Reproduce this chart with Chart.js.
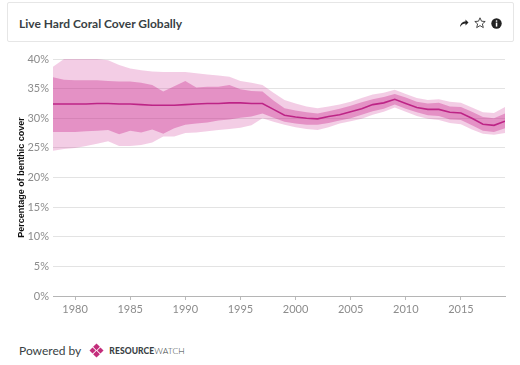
<!DOCTYPE html>
<html lang="en">
<head>
    <meta charset="UTF-8">
    <title>Live Hard Coral Cover Globally</title>
    <script src="https://cdn.jsdelivr.net/npm/chart.js"></script>
    <style>
        body {
            margin: 0;
            width: 520px;
            height: 365px;
            background: #fff;
            font-family: 'Lato', sans-serif;
            position: relative;
            overflow: hidden;
        }
        .header {
            position: absolute;
            left: 7px;
            top: 2px;
            width: 507px;
            height: 40px;
            border: 1px solid #e6e6e6;
            border-radius: 2px;
            box-sizing: border-box;
        }
        .header h1 {
            position: absolute;
            left: 11px;
            top: 13px;
            margin: 0;
            font-size: 12px;
            font-weight: 700;
            color: #393f44;
        }
        .icons {
            position: absolute;
            right: 11px;
            top: 14px;
            display: flex;
            gap: 5px;
            align-items: center;
        }
        .chart-box {
            position: absolute;
            left: 0;
            top: 45px;
            width: 515px;
            height: 285px;
        }
        .footer {
            position: absolute;
            left: 19px;
            top: 343px;
            display: flex;
            align-items: center;
            color: #393f44;
            font-size: 12px;
        }
        .footer .brand {
            font-size: 8.5px;
            letter-spacing: 0.1px;
            margin-left: 5px;
        }
        .footer .brand b { font-weight: 900; }
        .footer .brand span { font-weight: 300; }
    </style>
</head>
<body>
    <div class="header">
        <h1>Live Hard Coral Cover Globally</h1>
        <div class="icons">
            <!-- share -->
            <svg width="10" height="10" viewBox="0 0 10 10"><path d="M1 9 C1.5 5 4 3.5 6.5 3.5 L6.5 1.5 L9.5 4.5 L6.5 7.5 L6.5 5.5 C4.5 5.5 2.5 6.5 1 9 Z" fill="#222"/></svg>
            <!-- star -->
            <svg width="12" height="12" viewBox="0 0 12 12"><path d="M6 0.8 L7.5 4.2 L11.2 4.5 L8.4 6.9 L9.3 10.6 L6 8.6 L2.7 10.6 L3.6 6.9 L0.8 4.5 L4.5 4.2 Z" fill="none" stroke="#333" stroke-width="0.9"/></svg>
            <!-- info -->
            <svg width="11" height="11" viewBox="0 0 11 11"><circle cx="5.5" cy="5.5" r="5.2" fill="#222"/><rect x="4.8" y="4.6" width="1.5" height="4" fill="#fff"/><circle cx="5.55" cy="3" r="0.85" fill="#fff"/></svg>
        </div>
    </div>

    <div class="chart-box">
        <canvas id="coralChart" width="515" height="285"></canvas>
    </div>

    <div class="footer">
        <span>Powered by</span>
        <svg width="15" height="15" viewBox="0 0 16 16" style="margin-left:8px">
            <path d="M8 0.5 L11.6 4.1 L8 7.7 L4.4 4.1 Z" fill="#c32d7b"/>
            <path d="M12.2 4.7 L15.5 8 L12.2 11.3 L8.9 8 Z" fill="#c32d7b"/>
            <path d="M3.8 4.7 L7.1 8 L3.8 11.3 L0.5 8 Z" fill="#c32d7b"/>
            <path d="M8 8.3 L11.6 11.9 L8 15.5 L4.4 11.9 Z" fill="#c32d7b"/>
        </svg>
        <span class="brand"><b>RESOURCE</b><span>WATCH</span></span>
    </div>

    <script>
        // Années 1978 à 2019
        const years = [1978, 1979, 1980, 1981, 1982, 1983, 1984, 1985, 1986, 1987,
                       1988, 1989, 1990, 1991, 1992, 1993, 1994, 1995, 1996, 1997,
                       1998, 1999, 2000, 2001, 2002, 2003, 2004, 2005, 2006, 2007,
                       2008, 2009, 2010, 2011, 2012, 2013, 2014, 2015, 2016, 2017,
                       2018, 2019];

        const meanCover = [32.4, 32.4, 32.4, 32.4, 32.5, 32.5, 32.4, 32.4, 32.3, 32.2,
                           32.2, 32.2, 32.3, 32.4, 32.5, 32.5, 32.6, 32.6, 32.5, 32.5,
                           31.5, 30.5, 30.2, 30.0, 29.9, 30.3, 30.6, 31.1, 31.6, 32.3,
                           32.6, 33.2, 32.5, 31.8, 31.5, 31.5, 31.0, 30.9, 30.0, 29.0,
                           28.8, 29.5];

        const innerLow = [27.7, 27.7, 27.7, 27.8, 27.9, 28.0, 27.3, 27.9, 27.6, 28.1,
                          27.4, 28.3, 28.9, 29.1, 29.3, 29.6, 29.8, 30.1, 30.3, 30.8,
                          30.1, 29.4, 29.1, 28.9, 28.9, 29.2, 29.6, 30.0, 30.6, 31.2,
                          31.6, 32.3, 31.6, 31.0, 30.5, 30.4, 29.8, 29.7, 28.8, 27.9,
                          27.7, 28.3];

        const innerHigh = [36.9, 36.5, 36.4, 36.4, 36.4, 36.3, 36.2, 36.2, 36.0, 35.6,
                           34.5, 35.4, 36.3, 35.2, 35.3, 35.3, 35.6, 34.9, 34.6, 34.5,
                           33.0, 31.7, 31.3, 31.0, 30.8, 31.2, 31.6, 32.1, 32.7, 33.2,
                           33.6, 34.1, 33.5, 32.8, 32.5, 32.6, 32.0, 31.9, 31.1, 30.2,
                           30.0, 30.8];

        const outerLow = [24.5, 24.8, 25.0, 25.3, 25.7, 26.1, 25.3, 25.3, 25.5, 25.9,
                          26.9, 26.9, 27.5, 27.6, 27.8, 28.0, 28.2, 28.4, 28.8, 30.0,
                          29.4, 28.9, 28.5, 28.2, 28.0, 28.5, 29.1, 29.5, 29.9, 30.6,
                          31.1, 31.8, 31.1, 30.4, 29.9, 29.7, 29.2, 29.0, 28.1, 27.4,
                          27.2, 27.5];

        const outerHigh = [38.7, 40.0, 40.0, 40.0, 40.0, 39.8, 39.0, 38.4, 38.1, 37.9,
                           37.8, 37.8, 37.8, 37.6, 37.4, 37.2, 37.0, 36.3, 36.0, 35.6,
                           34.3, 33.1, 32.5, 32.0, 31.7, 32.0, 32.3, 32.8, 33.4, 34.0,
                           34.3, 34.8, 34.1, 33.4, 33.1, 33.2, 32.8, 32.6, 31.8, 31.0,
                           30.9, 31.9];

        const yTicks = [0, 5, 10, 15, 20, 25, 30, 35, 40];

        const pts = arr => years.map((yr, i) => ({ x: yr, y: arr[i] }));

        const lightBand = 'rgba(210, 70, 160, 0.27)';
        const darkBand = 'rgba(200, 40, 140, 0.38)';
        const lineColor = '#aa0f74';

        const band = (data, fill, color) => ({
            data: data,
            borderWidth: 0,
            pointRadius: 0,
            backgroundColor: color,
            fill: fill,
            tension: 0
        });

        new Chart(document.getElementById('coralChart'), {
            type: 'line',
            data: {
                datasets: [
                    band(pts(outerLow), false, lightBand),
                    band(pts(outerHigh), '-1', lightBand),
                    band(pts(innerLow), false, darkBand),
                    band(pts(innerHigh), '-1', darkBand),
                    {
                        data: pts(meanCover),
                        borderColor: lineColor,
                        borderWidth: 1.6,
                        pointRadius: 0,
                        fill: false,
                        tension: 0
                    }
                ]
            },
            options: {
                responsive: false,
                animation: false,
                layout: { padding: { top: 14, right: 10, bottom: 10, left: 0 } },
                plugins: {
                    legend: { display: false },
                    tooltip: { enabled: false }
                },
                scales: {
                    x: {
                        type: 'linear',
                        min: 1978,
                        max: 2019,
                        afterFit: s => { s.height = 24; },
                        grid: {
                            drawOnChartArea: false,
                            drawTicks: true,
                            tickLength: 4,
                            color: '#bbb'
                        },
                        border: { color: '#b5b5b5' },
                        ticks: {
                            stepSize: 5,
                            includeBounds: false,
                            padding: 3,
                            color: '#8c8c8c',
                            font: { family: 'Lato', size: 11 },
                            callback: v => String(v)
                        }
                    },
                    y: {
                        min: 0,
                        max: 40,
                        afterFit: s => { s.width = 53; },
                        afterBuildTicks: s => { s.ticks = yTicks.map(v => ({ value: v })); },
                        grid: {
                            drawTicks: false,
                            color: '#e3e3e3'
                        },
                        border: { display: false },
                        ticks: {
                            padding: 4,
                            color: '#8c8c8c',
                            font: { family: 'Lato', size: 11 },
                            callback: v => v + '%'
                        },
                        title: {
                            display: true,
                            text: 'Percentage of benthic cover',
                            color: '#111',
                            font: { family: 'Arial', size: 9, weight: 'bold' },
                            padding: { top: 16, bottom: 0 }
                        }
                    }
                }
            }
        });
    </script>
</body>
</html>
